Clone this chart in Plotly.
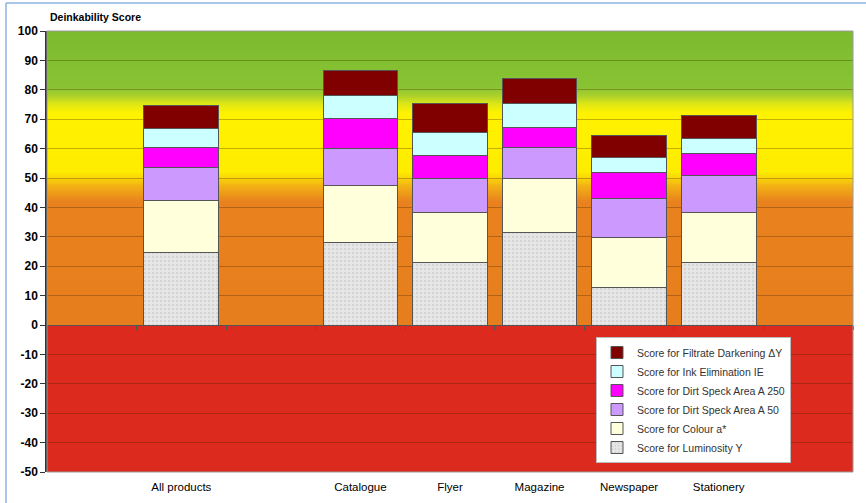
import plotly.graph_objects as go

# ---------------- data ----------------
categories = ["", "All products", " ", "Catalogue", "Flyer", "Magazine", "Newspaper", "Stationery", "  "]
products = ["All products", "Catalogue", "Flyer", "Magazine", "Newspaper", "Stationery"]
luminosity_y = [24.8, 28.2, 21.1, 31.3, 12.9, 21.1]
colour_a = [17.6, 19.1, 17.3, 18.4, 16.7, 17.0]
dirt_speck_a50 = [11.1, 12.9, 11.3, 10.8, 13.3, 12.6]
dirt_speck_a250 = [7.0, 9.9, 7.8, 6.8, 9.1, 7.8]
ink_elimination_ie = [6.5, 7.8, 8.1, 7.9, 5.1, 4.8]
filtrate_darkening = [7.8, 8.5, 9.6, 8.5, 7.2, 8.1]
y_ticks = list(range(-50, 101, 10))

series = [
    ("Score for Luminosity Y", luminosity_y, "#E6E6E6"),
    ("Score for Colour a*", colour_a, "#FFFFDC"),
    ("Score for Dirt Speck Area A 50", dirt_speck_a50, "#CC99FF"),
    ("Score for Dirt Speck Area A 250", dirt_speck_a250, "#FF00FF"),
    ("Score for Ink Elimination IE", ink_elimination_ie, "#CCFFFF"),
    ("Score for Filtrate Darkening ΔY", filtrate_darkening, "#800000"),
]

fig = go.Figure()
for i, (name, vals, col) in enumerate(series):
    marker = dict(color=col, line=dict(color="#555555", width=1))
    if i == 0:
        marker["pattern"] = dict(shape=".", fgcolor="#BDBDBD", bgcolor=col, size=4, solidity=0.25)
    fig.add_trace(go.Bar(x=products, y=vals, name=name, marker=marker))

# ---------------- background gradient ----------------
stops = [
    (0, (231, 126, 30)), (42, (233, 130, 30)), (47, (242, 175, 22)),
    (52, (255, 236, 0)), (72, (255, 242, 0)), (75, (225, 232, 20)),
    (78, (170, 208, 45)), (81, (136, 195, 52)), (100, (124, 187, 46)),
]

def colour_at(v):
    for (a, ca), (b, cb) in zip(stops[:-1], stops[1:]):
        if a <= v <= b:
            t = (v - a) / (b - a) if b > a else 0
            return "rgb(%d,%d,%d)" % tuple(round(ca[k] + (cb[k] - ca[k]) * t) for k in range(3))
    return "rgb(%d,%d,%d)" % stops[-1][1]

shapes = []
shapes.append(dict(type="rect", xref="paper", yref="y", x0=0, x1=1, y0=-50, y1=0,
                   fillcolor="#DD2A1E", line_width=0, layer="below"))
step = 0.5
v = 0.0
while v < 100:
    shapes.append(dict(type="rect", xref="paper", yref="y", x0=0, x1=1, y0=v,
                       y1=min(v + step + 1.0, 100),
                       fillcolor=colour_at(v + step / 2), line_width=0, layer="below"))
    v += step

# plot-area frame and page frame (left / top)
shapes.append(dict(type="rect", xref="paper", yref="paper", x0=0, x1=1, y0=0, y1=1,
                   line=dict(color="#9A9A9A", width=1), fillcolor="rgba(0,0,0,0)", layer="above"))
shapes.append(dict(type="line", xref="paper", yref="paper", x0=(6 - 47) / 806, x1=(6 - 47) / 806,
                   y0=(472 - 503) / 441, y1=(472 - 3) / 441, line=dict(color="#8DB3E2", width=1.5)))
shapes.append(dict(type="line", xref="paper", yref="paper", x0=(6 - 47) / 806, x1=(866 - 47) / 806,
                   y0=(472 - 3) / 441, y1=(472 - 3) / 441, line=dict(color="#8DB3E2", width=1.5)))

fig.update_layout(
    width=866, height=503,
    margin=dict(l=47, r=13, t=31, b=31),
    paper_bgcolor="white", plot_bgcolor="rgba(0,0,0,0)",
    barmode="stack", bargap=0.165,
    font=dict(family="Liberation Sans", color="#000000"),
    shapes=shapes,
    showlegend=True,
    legend=dict(
        traceorder="reversed",
        x=(596 - 47) / 806, xanchor="left",
        y=(472 - 337) / 441, yanchor="top",
        bgcolor="white", bordercolor="#BBBBBB", borderwidth=1,
        font=dict(family="Liberation Sans", size=10.5, color="#333333"),
        tracegroupgap=0,
    ),
    xaxis=dict(
        type="category", categoryorder="array", categoryarray=categories,
        range=[-0.5, len(categories) - 0.5], automargin=False,
        showgrid=False, zeroline=False, showline=False, ticks="",
        ticklabelstandoff=6,
        tickfont=dict(family="Liberation Sans", size=11.5, color="#000000"),
    ),
    xaxis2=dict(
        type="category", categoryorder="array", categoryarray=categories,
        range=[-0.5, len(categories) - 0.5], automargin=False,
        overlaying="x", anchor="free", position=50 / 150,
        showgrid=False, zeroline=False, showline=True, linecolor="#555555", linewidth=1,
        ticks="outside", tickson="boundaries", ticklen=4, tickcolor="#555555",
        showticklabels=False,
    ),
    yaxis=dict(
        range=[-50, 100], tickvals=y_ticks, ticktext=[str(t) for t in y_ticks],
        automargin=False,
        showgrid=True, gridcolor="rgba(60,30,0,0.3)", gridwidth=1,
        zeroline=False, showline=True, linecolor="#333333", linewidth=1.5,
        ticks="outside", ticklen=5, tickcolor="#333333",
        tickfont=dict(family="Liberation Sans", size=12, color="#000000", weight="bold"),
    ),
    annotations=[dict(
        text="Deinkability Score", xref="paper", yref="paper",
        x=(48 - 47) / 806, y=(472 - 17) / 441, xanchor="left", yanchor="middle",
        showarrow=False, font=dict(family="Liberation Sans", size=10.5, color="#000000", weight="bold"),
    )],
)

# empty helper trace so the zero-line axis is drawn
fig.add_trace(go.Scatter(x=[categories[1]], y=[None], xaxis="x2", showlegend=False, hoverinfo="skip"))

fig.write_html("out.html")
